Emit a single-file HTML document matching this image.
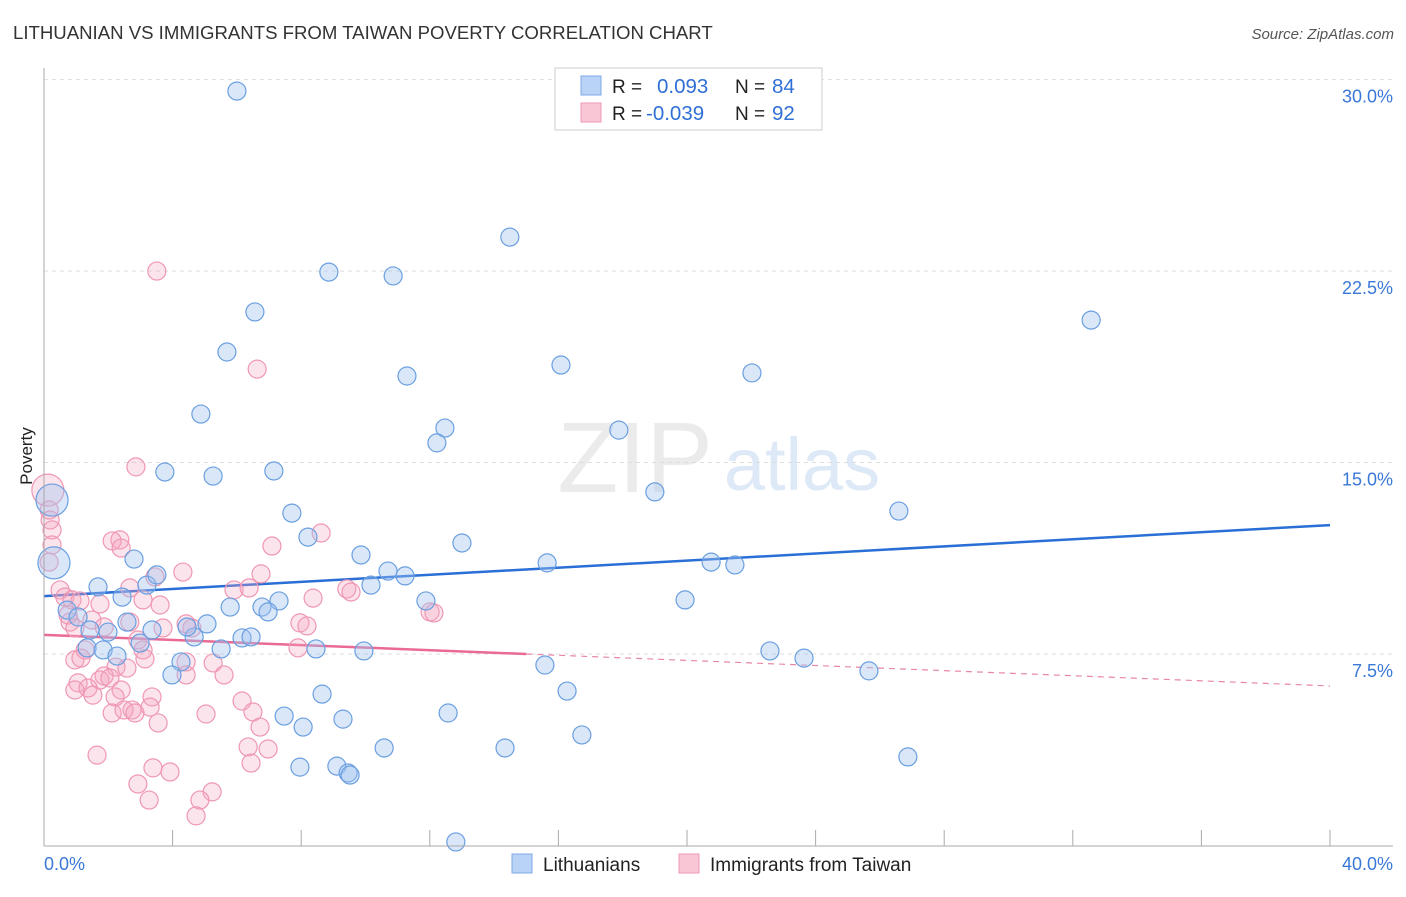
<!DOCTYPE html>
<html><head><meta charset="utf-8">
<style>
body{margin:0;background:#fff;font-family:"Liberation Sans",sans-serif;}
svg text{font-family:"Liberation Sans",sans-serif;}
</style></head>
<body>
<svg id="chart" width="1406" height="892" xmlns="http://www.w3.org/2000/svg">
<text x="13" y="39" font-size="18.6" fill="#333">LITHUANIAN VS IMMIGRANTS FROM TAIWAN POVERTY CORRELATION CHART</text>
<text x="1394" y="39" font-size="15" fill="#555" font-style="italic" text-anchor="end">Source: ZipAtlas.com</text>
<text x="32" y="456" font-size="17" fill="#222" text-anchor="middle" transform="rotate(-90 32 456)">Poverty</text>
<g><text x="635" y="492" font-size="100" fill="#ebebeb" font-family="Liberation Serif" text-anchor="middle">ZIP</text><text x="802" y="490" font-size="74" fill="#dde9f6" text-anchor="middle">atlas</text></g>
<g id="grid"></g>
<g id="trends"></g>
<g id="pts"></g>
<g id="axes"></g>
<g>
<rect x="555" y="68" width="267" height="62" fill="#fff" stroke="#ccc"/>
<rect x="581" y="76" width="20" height="19" fill="#b8d3f5" stroke="#7eaae6"/>
<rect x="581" y="103" width="20" height="19" fill="#f9c6d6" stroke="#ef9ab5"/>
<text x="612" y="93" font-size="19" fill="#222">R =</text><text x="657" y="93" font-size="20.5" fill="#2f6fd6">0.093</text>
<text x="735" y="93" font-size="19" fill="#222">N =</text><text x="772" y="93" font-size="20.5" fill="#2f6fd6">84</text>
<text x="612" y="120" font-size="19" fill="#222">R =</text><text x="646" y="120" font-size="20.5" fill="#2f6fd6">-0.039</text>
<text x="735" y="120" font-size="19" fill="#222">N =</text><text x="772" y="120" font-size="20.5" fill="#2f6fd6">92</text>
</g>
<g>
<rect x="512" y="854" width="20" height="19" fill="#b8d3f5" stroke="#7eaae6"/>
<text x="543" y="871" font-size="19" fill="#222">Lithuanians</text>
<rect x="679" y="854" width="20" height="19" fill="#f9c6d6" stroke="#ef9ab5"/>
<text x="710" y="871" font-size="19" fill="#222">Immigrants from Taiwan</text>
</g>
</svg>
<script>
const yTicks=[7.5,15,22.5,30];
const yTickLabels=["7.5%","15.0%","22.5%","30.0%"];
const xTicks=[0,4,8,12,16,20,24,28,32,36,40];
const blueX=[6.00,14.49,8.86,10.86,6.56,32.57,5.69,16.08,11.29,22.02,4.88,12.47,12.22,17.88,3.76,5.26,7.15,19.00,26.59,7.71,8.21,13.00,0.25,0.31,2.80,9.86,15.65,20.75,21.49,10.70,11.23,10.17,1.68,3.20,3.51,2.43,7.31,6.78,6.97,5.79,11.88,19.94,0.72,1.06,1.43,1.99,2.58,3.36,4.67,5.07,4.45,6.16,6.44,2.99,1.34,1.84,2.27,5.51,8.46,9.95,22.58,23.64,4.26,15.58,25.66,3.98,16.27,8.65,7.47,9.30,12.57,8.06,16.73,10.58,14.34,26.87,7.96,9.11,9.46,9.52,12.81];
const blueY=[29.55,23.83,22.46,22.31,20.90,20.58,19.33,18.82,18.39,18.51,16.90,16.35,15.77,16.27,14.63,14.47,14.67,13.85,13.10,13.02,12.08,11.85,13.53,11.07,11.22,11.38,11.07,11.10,10.99,10.75,10.56,10.20,10.13,10.20,10.60,9.73,9.58,9.34,9.15,9.34,9.58,9.62,9.22,8.95,8.44,8.36,8.75,8.44,8.17,8.68,8.56,8.13,8.17,7.93,7.74,7.66,7.42,7.70,7.70,7.62,7.62,7.34,7.19,7.07,6.84,6.68,6.05,5.93,5.07,4.95,5.19,4.64,4.33,3.82,3.82,3.47,3.07,3.11,2.84,2.76,0.14];
const blueBig=[22,23];
const pinkX=[3.51,6.63,2.86,0.12,0.16,0.19,0.25,0.25,2.36,2.12,2.40,8.62,7.09,0.16,0.50,0.65,0.87,1.12,1.74,1.49,0.81,0.75,0.96,2.67,3.45,4.32,3.08,3.61,5.91,6.38,6.75,9.42,9.55,8.37,4.60,3.70,2.67,1.87,1.28,0.96,1.15,2.92,3.08,3.14,4.42,4.42,7.96,8.18,7.90,5.26,4.42,12.01,12.13,2.24,2.58,1.87,1.74,2.05,1.06,0.96,1.37,1.52,2.40,2.21,3.36,3.30,2.74,2.12,2.49,2.83,5.04,6.16,6.50,6.72,3.55,1.65,3.39,3.92,6.35,6.97,6.44,2.92,3.27,5.23,4.85,4.73,5.60];
const pinkY=[22.50,18.66,14.83,13.92,13.14,12.75,12.36,11.77,11.97,11.93,11.65,12.24,11.73,11.10,10.01,9.73,9.62,9.58,9.46,8.83,8.75,9.03,8.52,10.09,10.52,10.71,9.62,9.42,10.01,10.09,10.64,10.05,9.93,9.69,8.52,8.52,8.75,8.56,7.66,7.27,7.34,8.05,7.66,7.31,8.68,7.19,8.72,8.60,7.74,7.15,6.68,9.15,9.11,6.99,6.95,6.64,6.48,6.56,6.37,6.09,6.17,5.89,6.09,5.82,5.82,5.42,5.31,5.19,5.31,5.19,5.15,5.66,5.23,4.64,4.80,3.54,3.04,2.88,3.86,3.78,3.23,2.41,1.78,2.10,1.78,1.16,6.68];
const pinkBig=[3];
const blueTrend=[9.77,12.55];
const pinkTrend=[8.25,6.25];
const pinkSolidEnd=15;

const X0=44,X1=1330,Y0=845.5,PXY=25.53;
const sx=v=>X0+v/40*(X1-X0);
const sy=v=>Y0-v*PXY;
const NS="http://www.w3.org/2000/svg";
function mk(tag,attrs,parent){const e=document.createElementNS(NS,tag);for(const k in attrs)e.setAttribute(k,attrs[k]);parent.appendChild(e);return e;}
const grid=document.getElementById('grid'),axes=document.getElementById('axes'),pts=document.getElementById('pts'),tr=document.getElementById('trends');
yTicks.forEach((t,i)=>{
  const l=mk('line',{x1:44,x2:1393,y1:sy(t),y2:sy(t),stroke:'#ddd','stroke-dasharray':'4,4'},grid);
  
  
  const tx=mk('text',{x:1393,y:sy(t)+23,'font-size':18,fill:'#3a78d8','text-anchor':'end'},axes);
  tx.textContent=yTickLabels[i];
  
  
});
const ax=mk('line',{x1:44,x2:44,y1:68,y2:846,stroke:'#aaa'},axes);


const bx=mk('line',{x1:44,x2:1393,y1:846,y2:846,stroke:'#aaa'},axes);


xTicks.forEach(t=>{
  const l=mk('line',{x1:sx(t),x2:sx(t),y1:830,y2:846,stroke:'#aaa'},axes);
  
  
});
const xl0=mk('text',{x:44,y:870,'font-size':18,fill:'#3a78d8'},axes);xl0.textContent='0.0%';


const xl1=mk('text',{x:1393,y:870,'font-size':18,fill:'#3a78d8','text-anchor':'end'},axes);xl1.textContent='40.0%';



pinkX.forEach((x,i)=>{
  const c=mk('circle',{cx:sx(x),cy:sy(pinkY[i]),r:pinkBig.includes(i)?16:9,fill:'rgba(244,165,192,0.3)',stroke:'#ef97b3','stroke-width':1.2},pts);
  
  
});
blueX.forEach((x,i)=>{
  const c=mk('circle',{cx:sx(x),cy:sy(blueY[i]),r:blueBig.includes(i)?16:9,fill:'rgba(160,196,240,0.4)',stroke:'#6b9fe0','stroke-width':1.2},pts);
  
  
});
const bl=mk('line',{x1:sx(0),y1:sy(blueTrend[0]),x2:sx(40),y2:sy(blueTrend[1]),stroke:'#2a6fd6','stroke-width':2.5},tr);


const pm=pinkTrend[0]+(pinkTrend[1]-pinkTrend[0])*pinkSolidEnd/40;
const pl=mk('line',{x1:sx(0),y1:sy(pinkTrend[0]),x2:sx(pinkSolidEnd),y2:sy(pm),stroke:'#e86a95','stroke-width':2.5},tr);


const pd=mk('line',{x1:sx(pinkSolidEnd),y1:sy(pm),x2:sx(40),y2:sy(pinkTrend[1]),stroke:'#e886a6','stroke-width':1.2,'stroke-dasharray':'6,5'},tr);


</script>
</body></html>
